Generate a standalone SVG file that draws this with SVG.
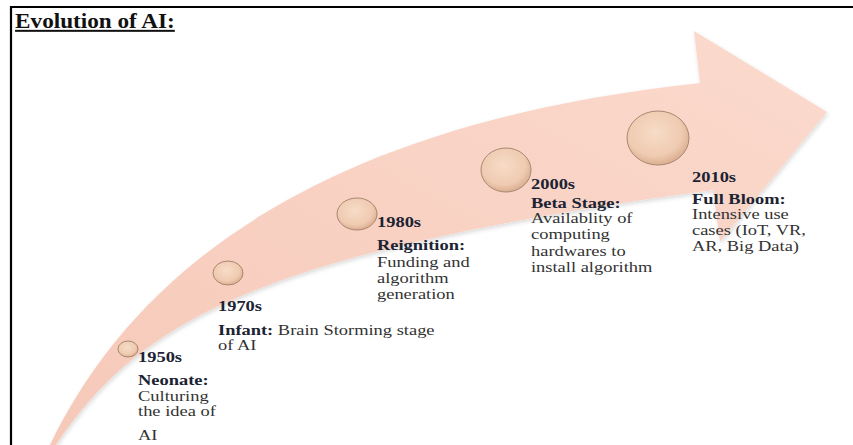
<svg xmlns="http://www.w3.org/2000/svg" width="853" height="445" viewBox="0 0 853 445">
<defs>
  <linearGradient id="arrowGrad" x1="0" y1="1" x2="1" y2="0">
    <stop offset="0" stop-color="#f6c9b9"/>
    <stop offset="1" stop-color="#fbdacd"/>
  </linearGradient>
  <radialGradient id="ballGrad" cx="0.45" cy="0.4" r="0.62">
    <stop offset="0" stop-color="#f7dcc7"/>
    <stop offset="0.7" stop-color="#efcbb1"/>
    <stop offset="1" stop-color="#d9ab8d"/>
  </radialGradient>
  <filter id="shadow" x="-10%" y="-10%" width="125%" height="130%">
    <feDropShadow dx="1" dy="2" stdDeviation="2" flood-color="#000" flood-opacity="0.15"/>
  </filter>
</defs>
<style>
  .t { font-family: "Liberation Serif", "Times New Roman", serif; font-size: 15px; }
  .h { font-weight: bold; fill: #1c2333; }
  .b { fill: #333333; }
  .ball { fill: url(#ballGrad); stroke: #a98770; stroke-width: 1; }
  .frame { stroke: #000; stroke-width: 2.2; fill: none; }
</style>
<rect width="853" height="445" fill="#ffffff"/>
<g id="frame">
  <line class="frame" x1="11" y1="6" x2="11" y2="445"/>
  <line class="frame" x1="10" y1="7" x2="853" y2="7"/>
</g>
<g id="title">
  <text class="t" transform="scale(1.16 1)" x="13" y="28" style="font-size:20px;font-weight:bold;text-decoration:underline;fill:#111">Evolution of AI:</text>
</g>
<g id="connectors">
  <path id="arrow" d="M 50 445 C 120 300, 280 128, 700 83 L 694 31 L 827 112 L 720 242 L 713 190 C 260 252, 140 320, 56 445 Z" fill="url(#arrowGrad)" filter="url(#shadow)"/>
</g>
<g id="n1950">
  <ellipse class="ball" cx="128" cy="349" rx="10" ry="8"/>
  <text class="t h" transform="scale(1.23 1)" x="112.2" y="362">1950s</text>
  <text class="t h" transform="scale(1.23 1)" x="112.2" y="385">Neonate:</text>
  <text class="t b" transform="scale(1.23 1)" x="112.2" y="401">Culturing</text>
  <text class="t b" transform="scale(1.23 1)" x="112.2" y="416">the idea of</text>
  <text class="t b" transform="scale(1.23 1)" x="112.2" y="440">AI</text>
</g>
<g id="n1970">
  <ellipse class="ball" cx="228" cy="273" rx="15" ry="12"/>
  <text class="t h" transform="scale(1.23 1)" x="177.2" y="311">1970s</text>
  <text class="t b" transform="scale(1.23 1)" x="177.2" y="335"><tspan class="h">Infant:</tspan> Brain Storming stage</text>
  <text class="t b" transform="scale(1.23 1)" x="177.2" y="350">of AI</text>
</g>
<g id="n1980">
  <ellipse class="ball" cx="357" cy="214" rx="20" ry="16"/>
  <text class="t h" transform="scale(1.23 1)" x="306.5" y="227">1980s</text>
  <text class="t h" transform="scale(1.23 1)" x="306.5" y="250">Reignition:</text>
  <text class="t b" transform="scale(1.23 1)" x="306.5" y="267">Funding and</text>
  <text class="t b" transform="scale(1.23 1)" x="306.5" y="283">algorithm</text>
  <text class="t b" transform="scale(1.23 1)" x="306.5" y="299">generation</text>
</g>
<g id="n2000">
  <ellipse class="ball" cx="506" cy="170" rx="25" ry="22"/>
  <text class="t h" transform="scale(1.23 1)" x="431.7" y="189">2000s</text>
  <text class="t h" transform="scale(1.23 1)" x="431.7" y="208">Beta Stage:</text>
  <text class="t b" transform="scale(1.23 1)" x="431.7" y="223">Availablity of</text>
  <text class="t b" transform="scale(1.23 1)" x="431.7" y="239">computing</text>
  <text class="t b" transform="scale(1.23 1)" x="431.7" y="256">hardwares to</text>
  <text class="t b" transform="scale(1.23 1)" x="431.7" y="272">install algorithm</text>
</g>
<g id="n2010">
  <ellipse class="ball" cx="658" cy="138" rx="31" ry="27"/>
  <text class="t h" transform="scale(1.23 1)" x="562.6" y="182">2010s</text>
  <text class="t h" transform="scale(1.23 1)" x="562.6" y="204">Full Bloom:</text>
  <text class="t b" transform="scale(1.23 1)" x="562.6" y="219">Intensive use</text>
  <text class="t b" transform="scale(1.23 1)" x="562.6" y="235">cases (IoT, VR,</text>
  <text class="t b" transform="scale(1.23 1)" x="562.6" y="251">AR, Big Data)</text>
</g>
</svg>
